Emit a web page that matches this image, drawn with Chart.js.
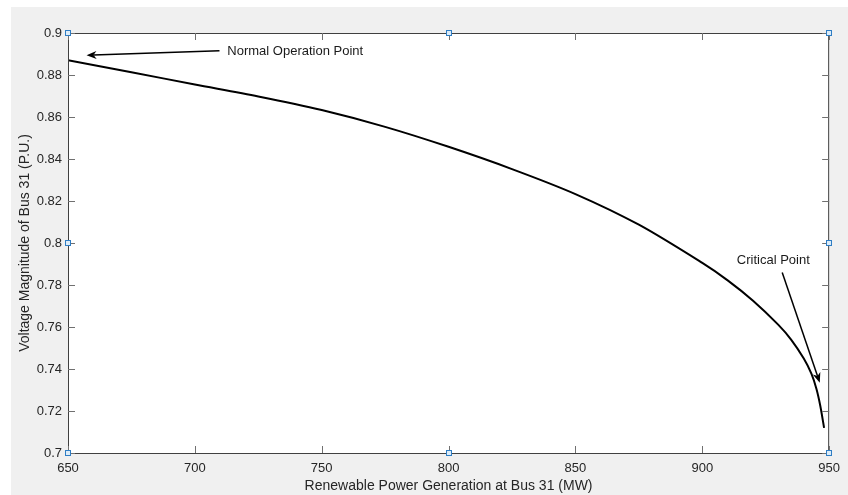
<!DOCTYPE html>
<html>
<head>
<meta charset="utf-8">
<script src="https://cdn.jsdelivr.net/npm/chart.js@4.4.1/dist/chart.umd.min.js"></script>
<style>
  html, body { margin: 0; padding: 0; background: #fff; }
  #wrap { width: 848px; height: 495px; }
</style>
</head>
<body>
<div id="wrap"><canvas id="pvChart" width="848" height="495"></canvas></div>
<script>
// PV curve of bus 31
const powerMW = [650, 675, 700, 725, 750, 775, 800, 825, 850, 875, 900, 910, 920, 930, 935, 940, 943, 945, 946.5, 948];
const voltagePU = [0.887, 0.8813, 0.8755, 0.8698, 0.8633, 0.8553, 0.8458, 0.8352, 0.8233, 0.8087, 0.7905, 0.7822, 0.7725, 0.761, 0.754, 0.745, 0.7378, 0.7305, 0.7225, 0.712];
const xTicks = [650, 700, 750, 800, 850, 900, 950];
const yTicks = [0.7, 0.72, 0.74, 0.76, 0.78, 0.8, 0.82, 0.84, 0.86, 0.88, 0.9];

// text arrows, in data units
const notes = [
  { text: 'Normal Operation Point', tx: 712.8, ty: 0.891, from: [709.7, 0.8916], to: [657.3, 0.8894], align: 'left' },
  { text: 'Critical Point', tx: 928, ty: 0.7919, from: [931.5, 0.7859], to: [946.3, 0.7335], align: 'center' }
];

const axisColor = '#404040';
const textColor = '#262626';
const font = 'Liberation Sans, Arial, Helvetica, sans-serif';

function arrow(ctx, x1, y1, x2, y2) {
  const a = Math.atan2(y2 - y1, x2 - x1);
  const len = 10, half = 4, back = 7;
  const bx = x2 - back * Math.cos(a), by = y2 - back * Math.sin(a);
  ctx.beginPath();
  ctx.moveTo(x1, y1);
  ctx.lineTo(bx, by);
  ctx.stroke();
  ctx.beginPath();
  ctx.moveTo(x2, y2);
  ctx.lineTo(x2 - len * Math.cos(a) + half * Math.sin(a), y2 - len * Math.sin(a) - half * Math.cos(a));
  ctx.lineTo(bx, by);
  ctx.lineTo(x2 - len * Math.cos(a) - half * Math.sin(a), y2 - len * Math.sin(a) + half * Math.cos(a));
  ctx.closePath();
  ctx.fill();
}

const matlabFrame = {
  id: 'matlabFrame',
  beforeDraw(chart) {
    const { ctx, chartArea: a, width, height } = chart;
    ctx.save();
    ctx.fillStyle = '#ffffff';
    ctx.fillRect(0, 0, width, height);
    ctx.fillStyle = '#f0f0f0';
    ctx.fillRect(11, 7, width - 11, height - 7);
    ctx.fillStyle = '#ffffff';
    ctx.fillRect(a.left, a.top, a.right - a.left, a.bottom - a.top);
    ctx.restore();
  },
  afterDraw(chart) {
    const { ctx, chartArea: a, scales } = chart;
    const x = scales.x, y = scales.y;
    ctx.save();
    // box
    ctx.strokeStyle = axisColor;
    ctx.lineWidth = 1;
    ctx.strokeRect(a.left + 0.5, a.top + 0.5, a.right - a.left - 1, a.bottom - a.top);
    // inward ticks on all four sides
    ctx.strokeStyle = '#707070';
    ctx.beginPath();
    xTicks.forEach(v => {
      const px = Math.round(x.getPixelForValue(v)) + 0.5;
      ctx.moveTo(px, a.bottom); ctx.lineTo(px, a.bottom - 7);
      ctx.moveTo(px, a.top); ctx.lineTo(px, a.top + 7);
    });
    yTicks.forEach(v => {
      const py = Math.round(y.getPixelForValue(v)) + 0.5;
      ctx.moveTo(a.left, py); ctx.lineTo(a.left + 7, py);
      ctx.moveTo(a.right, py); ctx.lineTo(a.right - 7, py);
    });
    ctx.stroke();
    // annotations
    ctx.fillStyle = '#000';
    ctx.strokeStyle = '#000';
    ctx.lineWidth = 1.5;
    ctx.font = '13px ' + font;
    ctx.textBaseline = 'middle';
    notes.forEach(n => {
      ctx.textAlign = n.align;
      ctx.fillStyle = '#1a1a1a';
      ctx.fillText(n.text, x.getPixelForValue(n.tx), y.getPixelForValue(n.ty));
      ctx.fillStyle = '#000';
      arrow(ctx, x.getPixelForValue(n.from[0]), y.getPixelForValue(n.from[1]),
        x.getPixelForValue(n.to[0]), y.getPixelForValue(n.to[1]));
    });
    // selection handles
    const hx = [a.left, (a.left + a.right) / 2, a.right];
    const hy = [a.top, (a.top + a.bottom) / 2, a.bottom];
    ctx.lineWidth = 1;
    ctx.strokeStyle = '#2f7dc4';
    ctx.fillStyle = '#dcecf8';
    hy.forEach((py, i) => hx.forEach((px, j) => {
      if (i === 1 && j === 1) return;
      ctx.fillRect(Math.round(px) - 2, Math.round(py) - 2, 5, 5);
      ctx.strokeRect(Math.round(px) - 2.5, Math.round(py) - 2.5, 5, 5);
    }));
    ctx.restore();
  }
};

const ctx = document.getElementById('pvChart').getContext('2d');
const pvChart = new Chart(ctx, {
  type: 'line',
  data: {
    datasets: [{
      label: 'Bus 31',
      data: powerMW.map((p, i) => ({ x: p, y: voltagePU[i] })),
      borderColor: '#000000',
      borderWidth: 2,
      pointRadius: 0,
      tension: 0.3,
      fill: false
    }]
  },
  options: {
    responsive: false,
    animation: false,
    events: [],
    layout: { padding: { left: 17, top: 33, right: 16, bottom: 0 } },
    plugins: { legend: { display: false }, tooltip: { enabled: false } },
    scales: {
      x: {
        type: 'linear',
        min: 650, max: 950,
        afterBuildTicks: s => { s.ticks = xTicks.map(v => ({ value: v })); },
        afterFit: s => { s.height = 42; },
        grid: { display: false, drawTicks: false },
        border: { display: false },
        ticks: { color: textColor, font: { family: font, size: 13 }, padding: 8, maxRotation: 0 },
        title: { display: true, text: 'Renewable Power Generation at Bus 31 (MW)', color: textColor, font: { family: font, size: 14 }, padding: 0 }
      },
      y: {
        type: 'linear',
        min: 0.7, max: 0.9,
        afterBuildTicks: s => { s.ticks = yTicks.map(v => ({ value: v })); },
        afterFit: s => { s.width = 51; },
        grid: { display: false, drawTicks: false },
        border: { display: false },
        ticks: { color: textColor, font: { family: font, size: 13 }, padding: 6, callback: v => String(parseFloat(v.toFixed(2))) },
        title: { display: true, text: 'Voltage Magnitude of Bus 31 (P.U.)', color: textColor, font: { family: font, size: 14 }, padding: 0 }
      }
    }
  },
  plugins: [matlabFrame]
});
</script>
</body>
</html>
